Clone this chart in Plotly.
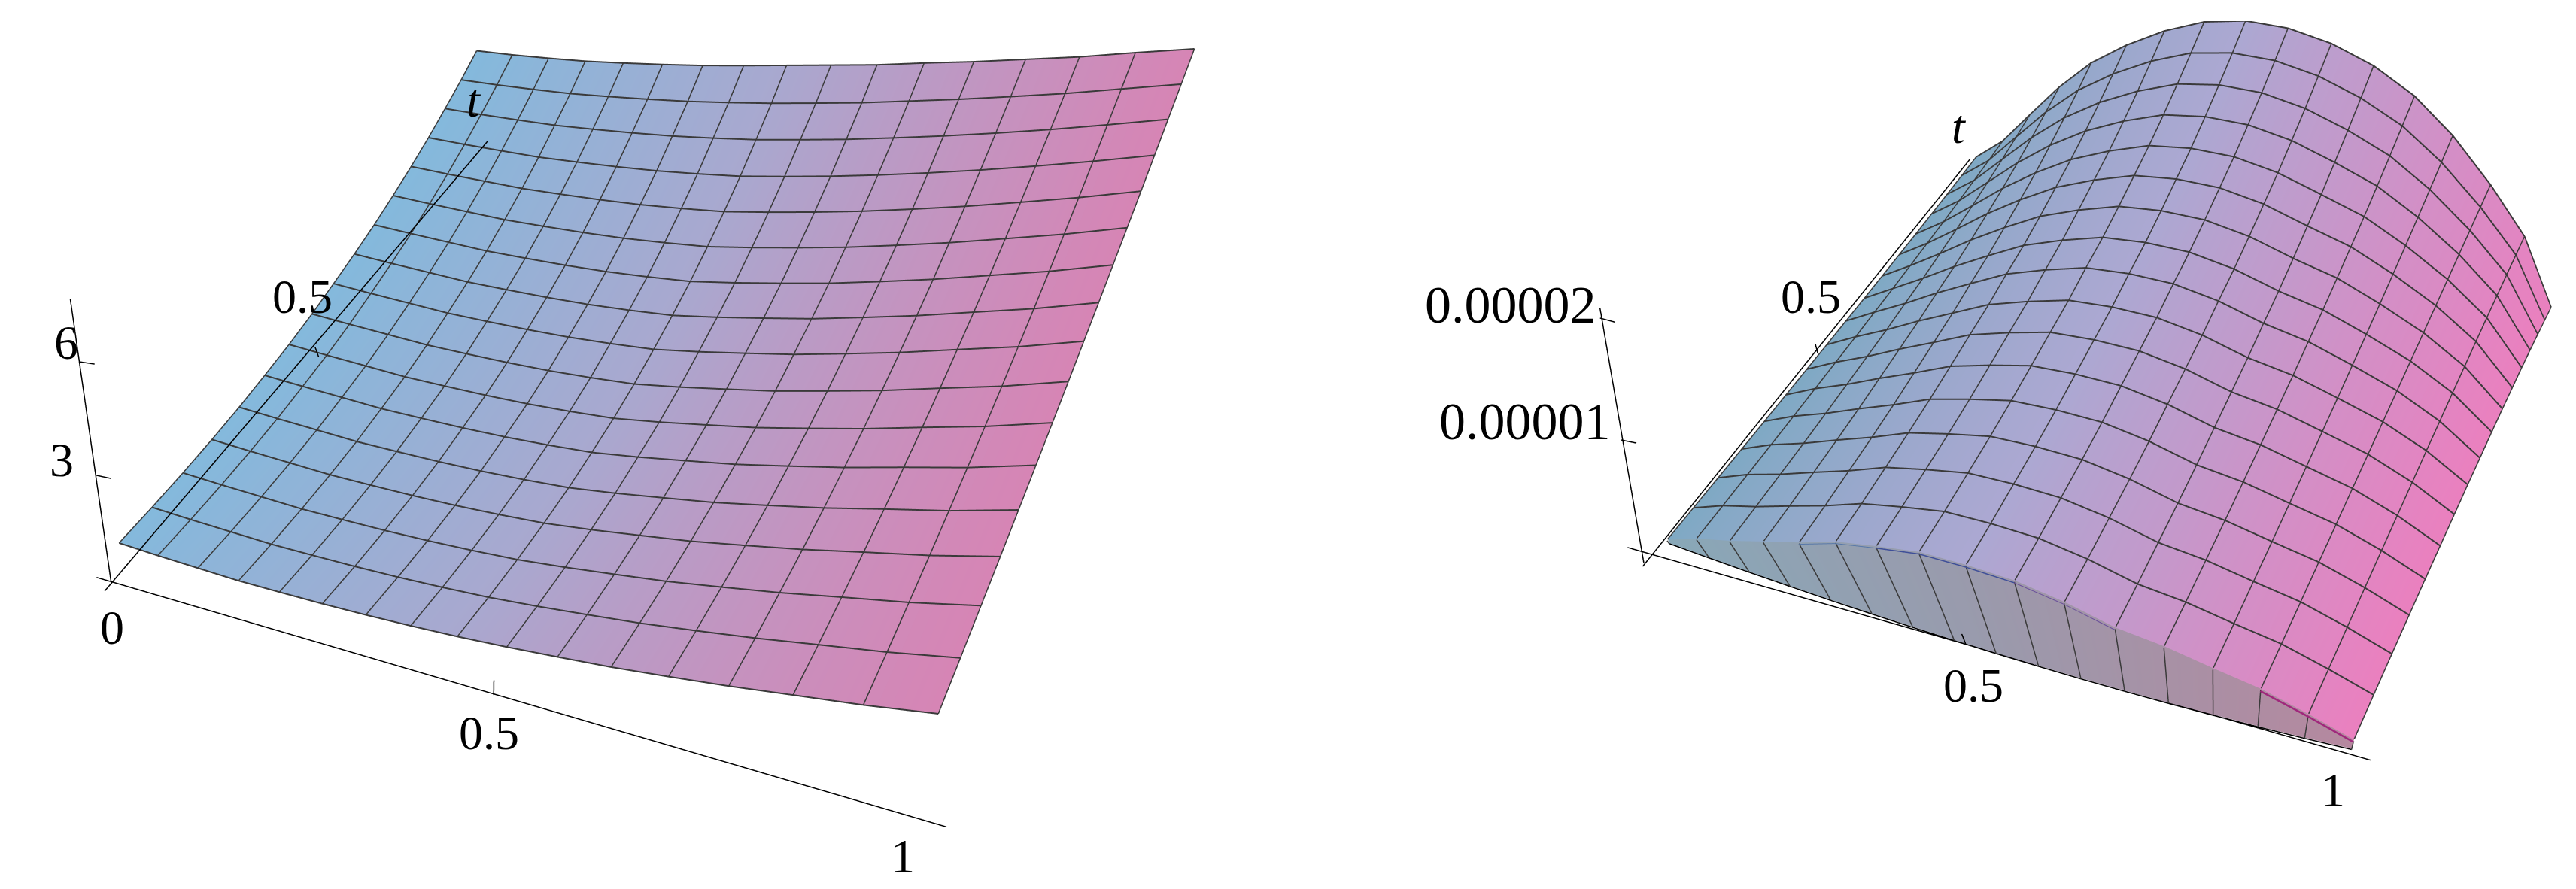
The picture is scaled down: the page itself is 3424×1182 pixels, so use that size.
import numpy as np
import plotly.graph_objects as go

W, H = 3424, 1182

# mesh positions along x and t (15 mesh lines between the edges)
grid = [i / 16 for i in range(17)]

# left surface: edge t=0, edge t=1, share between them per mesh row, how much each column sags
left_t0 = [0.82, 0.82, 0.84, 0.86, 0.93, 1.01, 1.11, 1.23, 1.37, 1.54, 1.73, 1.93, 2.17, 2.42, 2.70, 2.98, 3.30]
left_t1 = [2.38, 2.39, 2.42, 2.46, 2.53, 2.61, 2.70, 2.81, 2.93, 3.05, 3.17, 3.32, 3.46, 3.62, 3.78, 3.97, 4.15]
left_share = [0, -0.10, -0.18, -0.24, -0.28, -0.29, -0.29, -0.26, -0.20, -0.13, -0.04, 0.08, 0.22, 0.38, 0.57, 0.77, 1.0]
left_sag = [0.55, 0.60, 0.66, 0.72, 0.78, 0.84, 0.90, 0.95, 1, 1, 1, 1, 1, 1, 1, 1, 1]
left_shift_near = [-0.010, -0.012, -0.013, -0.015, -0.017, -0.018, -0.020, -0.022, -0.024, -0.025, -0.027, -0.029, -0.030, -0.032, -0.034, -0.035, -0.037]
left_shift_far = [0.020, 0.024, 0.028, 0.031, 0.035, 0.039, 0.043, 0.046, 0.050, 0.054, 0.058, 0.061, 0.065, 0.069, 0.073, 0.076, 0.080]

# right surface in units of 1e-5: far arch, near arch, foot of the near wall, share between the arches
right_top = [0.06, 0.25, 0.52, 0.78, 1.00, 1.16, 1.29, 1.38, 1.415, 1.395, 1.325, 1.21, 1.04, 0.80, 0.48, 0.12, -0.44]
right_near = [-0.01, 0.13, 0.235, 0.355, 0.47, 0.60, 0.68, 0.75, 0.76, 0.75, 0.69, 0.595, 0.56, 0.495, 0.44, 0.34, 0.23]
right_foot = [-0.04, -0.059, -0.074, -0.085, -0.093, -0.095, -0.094, -0.089, -0.08, -0.066, -0.05, -0.028, -0.003, 0.027, 0.06, 0.098, 0.14]
right_share = [0, 0.01, 0.03, 0.05, 0.08, 0.12, 0.16, 0.20, 0.26, 0.31, 0.38, 0.46, 0.54, 0.64, 0.75, 0.87, 1.0]
right_shift_near = [-0.020, -0.011, -0.003, 0.004, 0.010, 0.015, 0.018, 0.020, 0.021, 0.021, 0.019, 0.017, 0.013, 0.008, 0.001, -0.006, -0.015]
right_shift_far = [0.020, 0.026, 0.033, 0.039, 0.045, 0.051, 0.058, 0.064, 0.070, 0.076, 0.083, 0.089, 0.095, 0.101, 0.112, 0.122, 0.135]

# views
yaw, pitch, roll = 2.0650, -0.8621, -0.1477
left_eye, left_box = [0.8931, -1.8587, 2.1552], [1.9963, 1.9437, 0.1470]
right_eye, right_box = [0.8907, -1.8394, 2.1525], [1.8484, 1.7997, 0.4676]

# axis pieces: (x, t, z) ends
left_axes = [
    ((-0.060, -0.028, 0), (0.999, 0.012, 0)),
    ((0.494, 0.009, 0), (0.502, -0.008, 0)),
    ((-0.034, -0.030, 0), (-0.477, 0.412, 0)),
    ((-0.359, 0.295, 0), (-0.332, 0.298, 0)),
    ((-0.177, 0.114, 0), (-0.152, 0.116, 0)),
    ((0.769, -0.381, 12), (0.776, -0.192, 12)),
    ((0.773, -0.295, 12), (0.776, -0.298, 12)),
]
right_axes = [
    ((-0.297, 0.073, -1), (1.014, 0.124, -1)),
    ((-0.243, 0.048, -1), (-0.217, 1.344, -1)),
    ((-0.793, 0.600, -1), (-0.245, 0.054, -1)),
    ((-0.770, 0.572, -1), (-0.727, 0.571, -1)),
    ((-0.481, 0.285, -1), (-0.445, 0.288, -1)),
    ((-0.244, 0.643, -1), (-0.224, 0.620, -1)),
    ((0.478, -0.005, -0.07), (0.478, -0.005, 0.05)),
]

labels = [("<i>t</i>", 622, 126, 64), ("0.5", 394, 387, 64), ("6", 80, 448, 64), ("3", 74, 603, 64), ("0", 141, 826, 64),
          ("0.5", 642, 966, 64), ("1", 1192, 1130, 64), ("<i>t</i>", 2596, 161, 64), ("0.5", 2399, 387, 64),
          ("0.00002", 2000, 398, 70), ("0.00001", 2019, 553, 70), ("0.5", 2615, 903, 64), ("1", 3093, 1042, 64)]

g = np.array(grid)


def positions(shift_near, shift_far):
    near, far = np.array(shift_near), np.array(shift_far)
    return np.array([g + near * (1 - t) + far * t for t in g])


Y = np.meshgrid(g, g)[1]
x_left = positions(left_shift_near, left_shift_far)
x_right = positions(right_shift_near, right_shift_far)
t0, t1 = np.array(left_t0), np.array(left_t1)
sag = np.array(left_sag)
z_left = np.array([t0 + (t1 - t0) * (t + sag * (s - t)) for t, s in zip(g, left_share)])
near_arch = np.array(right_near)
top_arch = np.array(right_top)
z_right = np.array([near_arch + (top_arch - near_arch) * s for s in right_share]) * 1e-5
flat = dict(ambient=1, diffuse=0, specular=0, fresnel=0)


def view(e0, box, zrange, domain, unit=1.0):
    mid = (zrange[0] + zrange[1]) / 2 / unit
    e = np.array(e0)
    e[2] -= box[2] * mid
    f = np.array([np.cos(pitch) * np.cos(yaw), np.cos(pitch) * np.sin(yaw), np.sin(pitch)])
    r = np.cross(f, [0, 0, 1.0])
    r /= np.linalg.norm(r)
    u = -np.sin(roll) * r + np.cos(roll) * np.cross(r, f)
    c = e + f
    hidden = dict(visible=False)
    return dict(domain=domain, aspectmode="manual", bgcolor="white",
                aspectratio=dict(x=box[0] * 7, y=box[1] * 7, z=box[2] * (zrange[1] - zrange[0]) / unit),
                xaxis=dict(range=[-3, 4], **hidden), yaxis=dict(range=[-3, 4], **hidden),
                zaxis=dict(range=list(zrange), **hidden),
                camera=dict(eye=dict(x=e[0], y=e[1], z=e[2]), center=dict(x=c[0], y=c[1], z=c[2]),
                            up=dict(x=u[0], y=u[1], z=u[2])))


fig = go.Figure()


def add_lines(xs, ys, zs, scene, color="black", width=3):
    fig.add_trace(go.Scatter3d(x=xs, y=ys, z=zs, mode="lines", line=dict(color=color, width=width),
                               scene=scene, showlegend=False, hoverinfo="skip"))


def add_mesh(x, z, scene, lift, first_row=0):
    xs, ys, zs = [], [], []
    for j in range(first_row, 17):
        xs += list(x[j]) + [None]
        ys += [g[j]] * 17 + [None]
        zs += list(z[j] + lift) + [None]
    add_lines(xs, ys, zs, scene, color="#3a3a3a", width=4)
    xs, ys, zs = [], [], []
    for i in range(17):
        xs += list(x[:, i]) + [None]
        ys += list(g) + [None]
        zs += list(z[:, i] + lift) + [None]
    add_lines(xs, ys, zs, scene, color="#3a3a3a", width=3)


fig.add_trace(go.Surface(x=x_left, y=Y, z=z_left, surfacecolor=np.meshgrid(g, g)[0], cmin=0, cmax=1, showscale=False, scene="scene",
                         colorscale=[[0, "#84b9dc"], [0.5, "#a9a8cf"], [1, "#d685b5"]], lighting=flat, hoverinfo="skip"))
add_mesh(x_left, z_left, "scene", 0.01)

fig.add_trace(go.Surface(x=x_right, y=Y, z=z_right, surfacecolor=np.meshgrid(g, g)[0], cmin=0, cmax=1, showscale=False, scene="scene2",
                         colorscale=[[0, "#7fa9c4"], [0.5, "#aca8d2"], [1, "#ea80bf"]], lighting=flat, hoverinfo="skip"))
add_mesh(x_right, z_right, "scene2", 0.005e-5, first_row=1)

# the grey wall under the near arch
foot = np.array(right_foot) * 1e-5
arch = near_arch * 1e-5
fig.add_trace(go.Surface(x=np.vstack([x_right[0], x_right[0]]), y=[-0.001, 0], z=np.vstack([foot, arch]),
                         surfacecolor=np.vstack([g, g]), cmin=0, cmax=1, showscale=False, scene="scene2",
                         lighting=flat, hoverinfo="skip", colorscale=[[0, "#88a8b8"], [0.5, "#9a9aac"], [1, "#b5889f"]]))
for i in range(17):
    add_lines([x_right[0][i]] * 2, [-0.002, -0.002], [foot[i], arch[i]], "scene2", color="#3a3a3a")
add_lines(list(x_right[0]), [-0.002] * 17, list(foot), "scene2")
for first, last, color, width in ((4, 6, "#5878a8", 2), (6, 9, "#3f4f98", 3), (9, 11, "#6a4f9a", 2), (14, 16, "#a0287c", 5)):
    add_lines(list(x_right[0][first:last + 1]), [-0.003] * (last - first + 1), list(arch[first:last + 1]), "scene2", color=color, width=width)

for a, b in left_axes:
    add_lines([a[0], b[0]], [a[1], b[1]], [a[2], b[2]], "scene")
for a, b in right_axes:
    add_lines([a[0], b[0]], [a[1], b[1]], [a[2] * 1e-5, b[2] * 1e-5], "scene2")

fig.update_layout(
    width=W, height=H, margin=dict(l=0, r=0, t=0, b=0), paper_bgcolor="white", showlegend=False,
    scene=view(left_eye, left_box, (-10, 18), dict(x=[0, 2 * 821 / W], y=[0, 1])),
    scene2=view(right_eye, right_box, (-5e-5, 8e-5), dict(x=[2116 / W, 1], y=[1 - 1125.2 / H, 1 - 19.8 / H]), unit=1e-5),
    annotations=[dict(text=t, x=a / W, y=1 - b / H, xref="paper", yref="paper", showarrow=False, xanchor="center",
                      yanchor="middle", font=dict(family="Liberation Serif", size=s, color="black"))
                 for t, a, b, s in labels])

fig.write_html("out.html", config=dict(displayModeBar=False))
